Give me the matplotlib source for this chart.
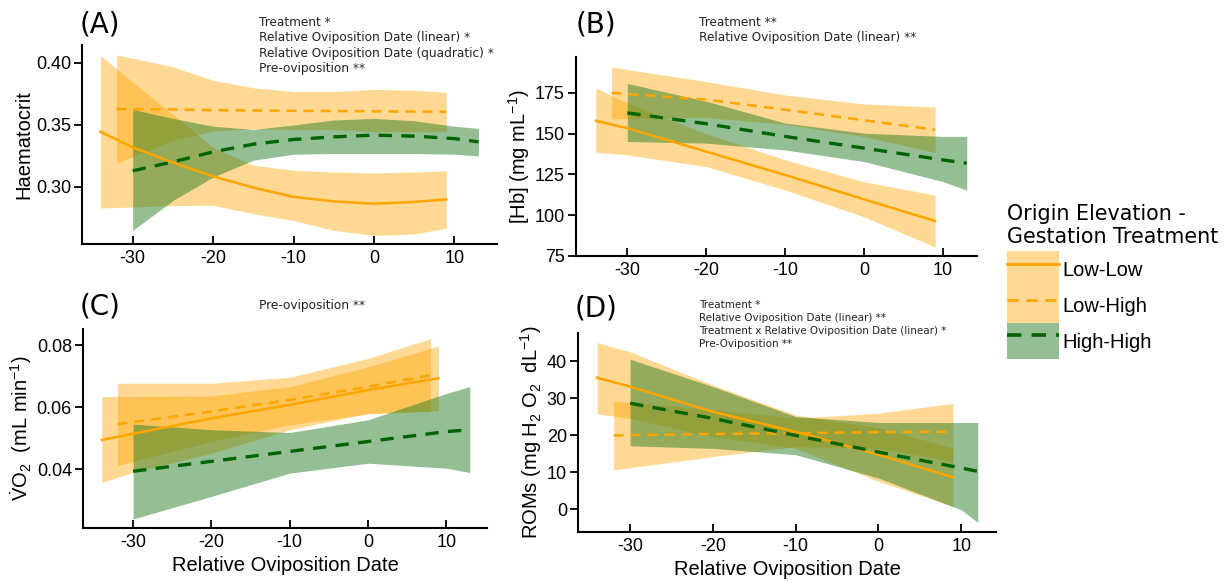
import matplotlib
matplotlib.use("Agg")
import matplotlib.pyplot as plt
from matplotlib.patches import Patch
from matplotlib.lines import Line2D

plt.rcParams['font.family'] = ['Liberation Sans', 'DejaVu Sans']
plt.rcParams['axes.unicode_minus'] = False
plt.rcParams['mathtext.fontset'] = 'custom'
plt.rcParams['mathtext.rm'] = 'Liberation Sans'
plt.rcParams['mathtext.it'] = 'Liberation Sans:italic'

ORANGE = '#FFA500'
GREEN_LINE = '#006400'
GREEN_FILL = '#1F7A1F'

# ---- (A) Haematocrit ----
a_ll_x = [-34, -30, -25, -20, -15, -10, -5, 0, 5, 9]
a_ll_y = [0.3445, 0.332, 0.3197, 0.3086, 0.2995, 0.292, 0.2884, 0.2865, 0.2879, 0.290]
a_ll_hi = [0.406, 0.3846, 0.3585, 0.332, 0.3175, 0.3135, 0.312, 0.3113, 0.312, 0.313]
a_ll_lo = [0.283, 0.2838, 0.285, 0.2852, 0.2784, 0.273, 0.265, 0.261, 0.262, 0.2668]
a_lh_x = [-32, -25, -20, -15, -10, -5, 0, 5, 9]
a_lh_y = [0.3628, 0.3625, 0.362, 0.3617, 0.3614, 0.3612, 0.361, 0.3608, 0.3607]
a_lh_hi = [0.4065, 0.397, 0.386, 0.380, 0.377, 0.377, 0.3787, 0.378, 0.3763]
a_lh_lo = [0.319, 0.3377, 0.345, 0.347, 0.3464, 0.3464, 0.3445, 0.3445, 0.3445]
a_hh_x = [-30, -25, -20, -15, -10, -5, 0, 5, 10, 13]
a_hh_y = [0.313, 0.3202, 0.3283, 0.3345, 0.3383, 0.3404, 0.3418, 0.341, 0.339, 0.3364]
a_hh_hi = [0.3625, 0.3553, 0.349, 0.3464, 0.350, 0.354, 0.3553, 0.3534, 0.349, 0.3472]
a_hh_lo = [0.265, 0.289, 0.308, 0.3216, 0.3264, 0.327, 0.327, 0.327, 0.3264, 0.325]

# ---- (B) [Hb] ----
b_ll_x = [-34, -30, -20, -10, 0, 9]
b_ll_y = [157.9, 153.4, 139.0, 124.7, 109.7, 96.5]
b_ll_hi = [178.1, 168.8, 150.0, 133.9, 120.5, 112.3]
b_ll_lo = [138.6, 137.0, 129.8, 115.4, 99.0, 80.5]
b_lh_x = [-32, -30, -20, -10, 0, 9]
b_lh_y = [175.0, 174.3, 170.9, 164.7, 158.2, 152.4]
b_lh_hi = [191.0, 189.3, 181.9, 173.7, 168.2, 166.4]
b_lh_lo = [159.0, 159.3, 159.9, 155.7, 148.2, 138.4]
b_hh_x = [-30, -20, -10, 0, 10, 13]
b_hh_y = [162.7, 156.1, 148.3, 141.1, 133.9, 131.9]
b_hh_hi = [180.8, 169.9, 156.5, 150.3, 148.3, 148.3]
b_hh_lo = [145.2, 144.2, 140.0, 132.9, 120.6, 115.4]

# ---- (C) VO2 ----
c_ll_x = [-34, -30, -20, -10, 0, 9]
c_ll_y = [0.0494, 0.0514, 0.0564, 0.0607, 0.0655, 0.0693]
c_ll_hi = [0.0634, 0.0634, 0.0636, 0.0666, 0.0730, 0.0797]
c_ll_lo = [0.0357, 0.0390, 0.0451, 0.0527, 0.0580, 0.0589]
c_lh_x = [-32, -20, -10, 0, 8]
c_lh_y = [0.0545, 0.0586, 0.0623, 0.0666, 0.0703]
c_lh_hi = [0.0677, 0.0677, 0.0696, 0.0757, 0.0821]
c_lh_lo = [0.0411, 0.0489, 0.0543, 0.0578, 0.0586]
c_hh_x = [-30, -20, -10, 0, 10, 13]
c_hh_y = [0.0393, 0.0425, 0.0457, 0.0489, 0.0521, 0.0527]
c_hh_hi = [0.0545, 0.0527, 0.0518, 0.0559, 0.0644, 0.0666]
c_hh_lo = [0.0239, 0.0312, 0.0387, 0.0419, 0.0403, 0.0389]

# ---- (D) ROMs ----
d_ll_x = [-34, -30, -20, -10, 0, 9]
d_ll_y = [35.5, 33.1, 26.3, 20.9, 14.7, 8.6]
d_ll_hi = [45.0, 42.5, 33.5, 25.4, 22.0, 16.5]
d_ll_lo = [25.7, 24.5, 19.6, 16.4, 7.5, 0.7]
d_lh_x = [-32, -20, -10, 0, 9]
d_lh_y = [19.9, 20.3, 20.5, 20.8, 20.9]
d_lh_hi = [29.3, 26.8, 24.6, 25.9, 28.6]
d_lh_lo = [10.6, 14.2, 16.9, 16.4, 12.9]
d_hh_x = [-30, -20, -10, 0, 10, 12]
d_hh_y = [28.6, 24.5, 19.9, 15.4, 11.1, 10.2]
d_hh_hi = [40.5, 33.1, 25.0, 23.4, 23.4, 23.4]
d_hh_lo = [17.1, 16.4, 14.7, 8.4, -0.2, -3.6]

x_ticks = [-30, -20, -10, 0, 10]
group_names = ["Low-Low", "Low-High", "High-High"]

W, H = 1225, 583
fig = plt.figure(figsize=(W / 100, H / 100), dpi=100)


def px_axes(left, right, top, bottom):
    return fig.add_axes([left / W, 1 - bottom / H, (right - left) / W, (bottom - top) / H])


def draw_panel(ax, ll, lh, hh):
    for (x, y, hi, lo), dashed, col, fcol, lw, alpha in [
        (ll, False, ORANGE, ORANGE, 1.8, 0.42),
        (lh, True, ORANGE, ORANGE, 1.8, 0.42),
        (hh, True, GREEN_LINE, GREEN_FILL, 2.4, 0.48),
    ]:
        ax.fill_between(x, lo, hi, color=fcol, alpha=alpha, lw=0)
        if dashed:
            ax.plot(x, y, color=col, lw=lw, dashes=(4, 2.8))
        else:
            ax.plot(x, y, color=col, lw=lw)
    for s in ['top', 'right']:
        ax.spines[s].set_visible(False)
    for s in ['left', 'bottom']:
        ax.spines[s].set_linewidth(1.5)
    ax.set_xticks(x_ticks)
    ax.tick_params(axis='x', direction='in', length=6, width=1.3, labelsize=13, pad=4)
    ax.tick_params(axis='y', direction='out', length=6, width=1.3, labelsize=13, pad=2)


axA = px_axes(82, 497, 45, 244)
draw_panel(axA, (a_ll_x, a_ll_y, a_ll_hi, a_ll_lo),
           (a_lh_x, a_lh_y, a_lh_hi, a_lh_lo),
           (a_hh_x, a_hh_y, a_hh_hi, a_hh_lo))
axA.set_xlim(-36.3, 15.3)
axA.set_ylim(0.254, 0.4145)
axA.set_yticks([0.30, 0.35, 0.40])
axA.set_yticklabels(['0.30', '0.35', '0.40'])
axA.set_ylabel('Haematocrit', fontsize=14.5, labelpad=2)

axB = px_axes(576, 977, 57, 256)
draw_panel(axB, (b_ll_x, b_ll_y, b_ll_hi, b_ll_lo),
           (b_lh_x, b_lh_y, b_lh_hi, b_lh_lo),
           (b_hh_x, b_hh_y, b_hh_hi, b_hh_lo))
axB.set_xlim(-36.5, 14.3)
axB.set_ylim(75, 197)
axB.set_yticks([75, 100, 125, 150, 175])
axB.set_ylabel('[Hb] (mg mL$^{-1}$)', fontsize=14.5, labelpad=2)

axC = px_axes(83, 487, 329, 528)
draw_panel(axC, (c_ll_x, c_ll_y, c_ll_hi, c_ll_lo),
           (c_lh_x, c_lh_y, c_lh_hi, c_lh_lo),
           (c_hh_x, c_hh_y, c_hh_hi, c_hh_lo))
axC.set_xlim(-36.4, 15.2)
axC.set_ylim(0.021, 0.0852)
axC.set_yticks([0.04, 0.06, 0.08])
axC.set_yticklabels(['0.04', '0.06', '0.08'])
axC.set_ylabel(r'$\dot{\mathrm{V}}$O$_2$  (mL min$^{-1}$)', fontsize=14.5, labelpad=2)
axC.set_xlabel('Relative Oviposition Date', fontsize=14.5, labelpad=4)

axD = px_axes(578, 996, 333, 532)
draw_panel(axD, (d_ll_x, d_ll_y, d_ll_hi, d_ll_lo),
           (d_lh_x, d_lh_y, d_lh_hi, d_lh_lo),
           (d_hh_x, d_hh_y, d_hh_hi, d_hh_lo))
axD.set_xlim(-36.3, 14.2)
axD.set_ylim(-6.2, 47.6)
axD.set_yticks([0, 10, 20, 30, 40])
axD.set_ylabel('ROMs (mg H$_2$ O$_2$  dL$^{-1}$)', fontsize=14.5, labelpad=2)
axD.set_xlabel('Relative Oviposition Date', fontsize=14.5, labelpad=4)

# panel letters
for lab, x, y in [('(A)', 80, 25), ('(B)', 576, 25), ('(C)', 80, 306), ('(D)', 575, 308)]:
    fig.text(x / W, 1 - y / H, lab, fontsize=20, family='DejaVu Sans', va='center', ha='left')

# significance notes
notes_A = ["Treatment *", "Relative Oviposition Date (linear) *",
           "Relative Oviposition Date (quadratic) *", "Pre-oviposition **"]
notes_B = ["Treatment **", "Relative Oviposition Date (linear) **"]
notes_C = ["Pre-oviposition **"]
notes_D = ["Treatment *", "Relative Oviposition Date (linear) **",
           "Treatment x Relative Oviposition Date (linear) *", "Pre-Oviposition **"]

for notes, x, y, step, fs in [(notes_A, 259, 22, 15.5, 8.7), (notes_B, 699, 22, 15.5, 8.7),
                              (notes_C, 259, 305, 15.5, 8.7), (notes_D, 699, 305, 13, 7.5)]:
    for i, t in enumerate(notes):
        fig.text(x / W, 1 - (y + i * step) / H, t, fontsize=fs, family='DejaVu Sans',
                 va='center', ha='left', color='#222222')

# legend
handles = [
    (Patch(facecolor=ORANGE, alpha=0.42, lw=0), Line2D([], [], color=ORANGE, lw=2)),
    (Patch(facecolor=ORANGE, alpha=0.42, lw=0), Line2D([], [], color=ORANGE, lw=2, dashes=(4, 2.8))),
    (Patch(facecolor=GREEN_FILL, alpha=0.48, lw=0), Line2D([], [], color=GREEN_LINE, lw=2.6, dashes=(4, 2.8))),
]
leg = fig.legend(handles, group_names, loc='upper left', bbox_to_anchor=(991 / W, 1 - 188 / H),
                 frameon=False, fontsize=14.5, title='Origin Elevation -\nGestation Treatment',
                 title_fontsize=14.9, alignment='left', handlelength=2.58, handleheight=2.37,
                 labelspacing=0, handletextpad=0.15, borderpad=0.3)
leg.get_title().set_family('DejaVu Sans')
leg._legend_box.sep = 3

fig.savefig('out.png', dpi=100)
